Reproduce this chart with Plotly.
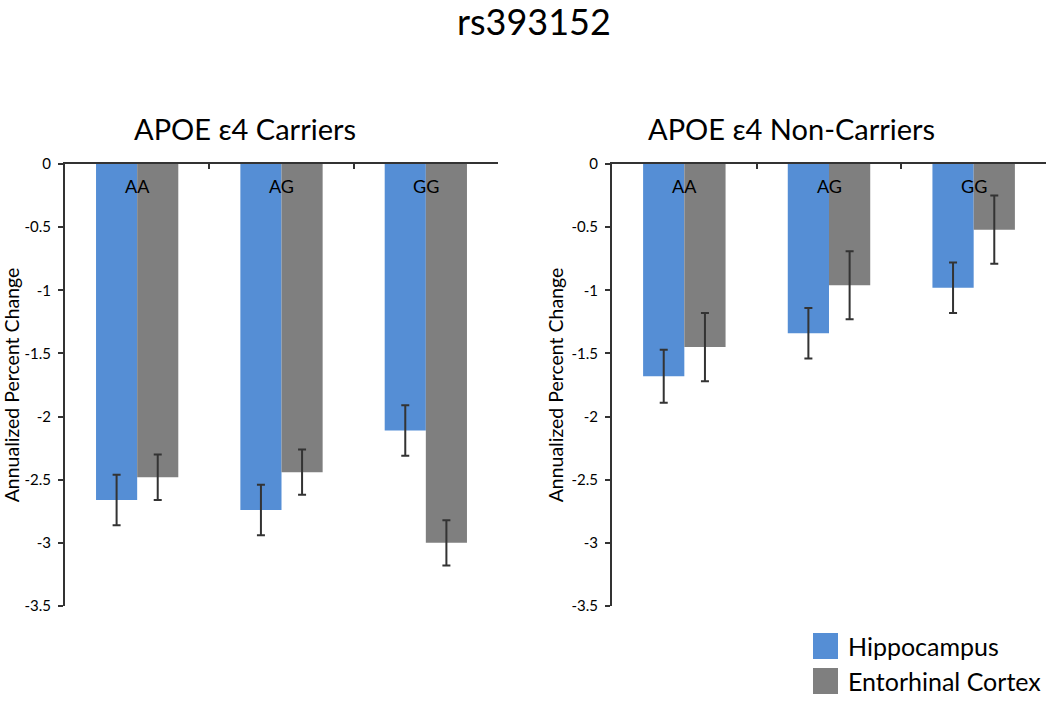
import plotly.graph_objects as go

genotypes = ["AA", "AG", "GG"]
series_names = ["Hippocampus", "Entorhinal Cortex"]
series_colors = ["#558ED5", "#7F7F7F"]

carriers_hippo = [-2.66, -2.74, -2.11]
carriers_hippo_err = [0.20, 0.20, 0.20]
carriers_ento = [-2.48, -2.44, -3.00]
carriers_ento_err = [0.18, 0.18, 0.18]

non_hippo = [-1.68, -1.34, -0.98]
non_hippo_err = [0.21, 0.20, 0.20]
non_ento = [-1.45, -0.96, -0.52]
non_ento_err = [0.27, 0.27, 0.27]

main_title = "rs393152"
panel_titles = ["APOE \u03b54 Carriers", "APOE \u03b54 Non-Carriers"]
y_title = "Annualized Percent Change"
y_tickvals = [0, -0.5, -1, -1.5, -2, -2.5, -3, -3.5]
y_ticktext = ["0", "-0.5", "-1", "-1.5", "-2", "-2.5", "-3", "-3.5"]

FONT = "Lato, 'Open Sans', sans-serif"

fig = go.Figure()

panels = [
    ("x", "y", [carriers_hippo, carriers_ento], [carriers_hippo_err, carriers_ento_err]),
    ("x2", "y2", [non_hippo, non_ento], [non_hippo_err, non_ento_err]),
]
for xa, ya, vals, errs in panels:
    for i in range(2):
        fig.add_trace(go.Bar(
            x=genotypes, y=vals[i], name=series_names[i],
            marker=dict(color=series_colors[i], line=dict(width=0)),
            error_y=dict(type="data", array=errs[i], color="#333333", thickness=2, width=4),
            xaxis=xa, yaxis=ya, showlegend=False,
        ))

y_dom = [1 - 606 / 704, 1 - 164 / 704]
x_doms = [[65 / 1050, 498 / 1050], [612 / 1050, 1046 / 1050]]

axis_common_x = dict(
    type="category", side="top", showticklabels=False, ticks="inside", ticklen=5,
    tickwidth=1.5, tickcolor="#333333", tickson="boundaries", showline=True,
    linecolor="#333333", linewidth=2, showgrid=False, zeroline=False, fixedrange=True,
    automargin=False,
)
axis_common_y = dict(
    range=[-3.5, 0], tickvals=y_tickvals, ticktext=y_ticktext, ticks="outside",
    ticklen=5, tickwidth=1.5, tickcolor="#333333", showline=True, linecolor="#333333",
    linewidth=2, showgrid=False, zeroline=False, automargin=False,
    ticklabelstandoff=4,
    tickfont=dict(family=FONT, size=15, color="black"),
    title=dict(text=y_title, font=dict(family=FONT, size=19.5, color="black"), standoff=3),
)

fig.update_layout(
    width=1050, height=704,
    margin=dict(l=0, r=0, t=0, b=0),
    paper_bgcolor="white", plot_bgcolor="white",
    barmode="group", bargap=0.43, bargroupgap=0,
    font=dict(family=FONT, color="black"),
    xaxis=dict(domain=x_doms[0], anchor="y", **axis_common_x),
    xaxis2=dict(domain=x_doms[1], anchor="y2", **axis_common_x),
    yaxis=dict(domain=y_dom, anchor="x", **axis_common_y),
    yaxis2=dict(domain=y_dom, anchor="x2", **axis_common_y),
    showlegend=False,
)

# main title
fig.add_annotation(text=main_title, xref="paper", yref="paper", x=534 / 1050, y=1 - 21 / 704,
                   showarrow=False, font=dict(family=FONT, size=36, color="black"),
                   xanchor="center", yanchor="middle")
# panel titles
for cx, t in zip([245, 791], panel_titles):
    fig.add_annotation(text=t, xref="paper", yref="paper", x=cx / 1050, y=1 - 128 / 704,
                       showarrow=False, font=dict(family=FONT, size=29, color="black"),
                       xanchor="center", yanchor="middle")
# category labels inside plot
for xa, ya in [("x", "y"), ("x2", "y2")]:
    for g in genotypes:
        fig.add_annotation(text=g, x=g, y=0, xref=xa, yref=ya, showarrow=False,
                           yanchor="top", yshift=-9,
                           font=dict(family=FONT, size=18, color="black"))

# legend (manual)
leg_items = [(633, 659), (668, 694)]
for (y0, y1), nm, col in zip(leg_items, series_names, series_colors):
    fig.add_shape(type="rect", xref="paper", yref="paper",
                  x0=813 / 1050, x1=838 / 1050, y0=1 - y1 / 704, y1=1 - y0 / 704,
                  fillcolor=col, line=dict(width=0))
    fig.add_annotation(text=nm, xref="paper", yref="paper", x=846 / 1050,
                       y=1 - ((y0 + y1) / 2) / 704, showarrow=False, xanchor="left",
                       yanchor="middle", font=dict(family=FONT, size=25, color="black"))

fig.write_html("out.html", config={"displayModeBar": False},
               post_script="document.body.style.margin='0px';")
